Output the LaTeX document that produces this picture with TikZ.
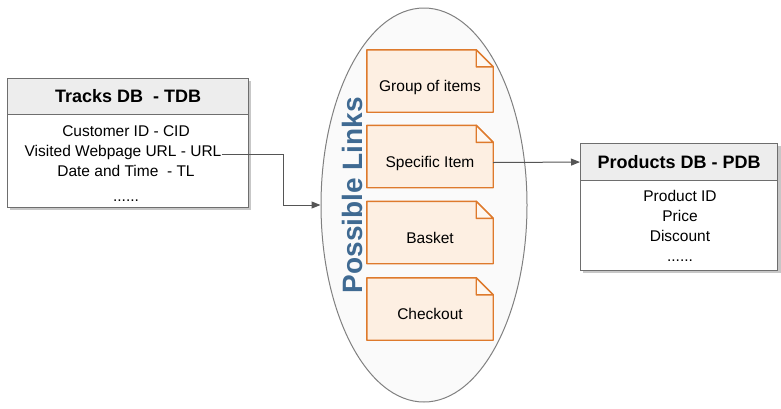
\documentclass[tikz,border=0pt]{standalone}
\usepackage{fontspec}
\setmainfont{Liberation Sans}
\usetikzlibrary{arrows.meta,shapes.geometric,calc}
\definecolor{boxline}{HTML}{6E6E6E}
\definecolor{headfill}{HTML}{EDEDED}
\definecolor{noteline}{HTML}{DE7A2C}
\definecolor{notefill}{HTML}{FDEFE2}
\definecolor{foldfill}{HTML}{FEF7F0}
\definecolor{linkblue}{HTML}{3F6A92}
\definecolor{arrowgray}{HTML}{555555}
\tikzset{
  dbhead/.style={draw=boxline, line width=1.1pt, fill=headfill, anchor=north west,
    inner sep=0pt, font=\fontsize{18}{20}\selectfont\bfseries},
  dbbody/.style={draw=boxline, line width=1.1pt, fill=white, anchor=north west, inner sep=0pt},
  dbline/.style={font=\fontsize{15.5}{20}\selectfont, inner sep=0pt,
    text height=11pt, text depth=3pt},
  shadowbox/.style={fill=black!22},
  notebox/.style={minimum width=126pt, minimum height=62pt, inner sep=0pt,
    text height=24pt, text depth=3pt, font=\fontsize{15.5}{17}\selectfont},
  link/.style={draw=arrowgray, line width=1pt, -{Triangle[length=9pt,width=7pt]}},
}
\begin{document}
\begin{tikzpicture}[x=1pt,y=-1pt]
\useasboundingbox (0,0) rectangle (781,408);

% container of possible links
\node[ellipse, draw=black!50, line width=1pt, fill=black!2,
      minimum width=206pt, minimum height=394pt, inner sep=0pt] (links) at (424,205) {};
\node[rotate=90, text=linkblue, font=\fontsize{28}{30}\selectfont\bfseries] (linkstitle) at (352,195) {Possible Links};

% notes with folded corner
\foreach \nm/\yc/\txt in {grp/81/Group of items, spec/156.5/Specific Item, bask/232.5/Basket, chk/309/Checkout}{
  \node[notebox] (\nm) at (430,\yc) {};
  \filldraw[draw=noteline, fill=notefill, line width=1.4pt, line join=round]
    (\nm.north west) -- ([xshift=-17pt]\nm.north east) -- ([yshift=-17pt]\nm.north east)
    -- (\nm.south east) -- (\nm.south west) -- cycle;
  \filldraw[draw=noteline, fill=foldfill, line width=1.4pt, line join=round]
    ([xshift=-17pt]\nm.north east) -- ([xshift=-17pt,yshift=-17pt]\nm.north east)
    -- ([yshift=-17pt]\nm.north east) -- cycle;
  \node[notebox] at (\nm) {\txt};
}

% Tracks DB
\fill[shadowbox] (9.5,80.5) rectangle (250.5,209.5);
\node[dbbody, minimum width=241pt, minimum height=93pt] (tbody) at (7,114) {};
\node[dbhead, minimum width=241pt, minimum height=36pt] (thead) at (7,78) {Tracks DB\ \ - TDB};
\node[dbline] (cid) at (126,132) {Customer ID - CID};
\node[dbline] (url) at (123,152) {Visited Webpage URL - URL};
\node[dbline] (tl) at (126,172) {Date and Time\ \ - TL};
\node[dbline] (tmore) at (126,197) {......};

% Products DB
\fill[shadowbox] (582.5,145.5) rectangle (780.5,272.5);
\node[dbbody, minimum width=197pt, minimum height=90pt] (pbody) at (580,180) {};
\node[dbhead, minimum width=197pt, minimum height=37pt] (phead) at (580,143) {Products DB - PDB};
\node[dbline] (pid) at (680,197) {Product ID};
\node[dbline] (price) at (680,217) {Price};
\node[dbline] (disc) at (680,237) {Discount};
\node[dbline] (pmore) at (680,257) {......};

% connectors
\coordinate (bend) at (283,0);
\draw[link] ([yshift=-2pt]url.east) -- ([yshift=-2pt]url.east -| bend) |- (links.west);
\draw[link] ([yshift=-6pt]spec.east) -- (phead.west);
\end{tikzpicture}
\end{document}
